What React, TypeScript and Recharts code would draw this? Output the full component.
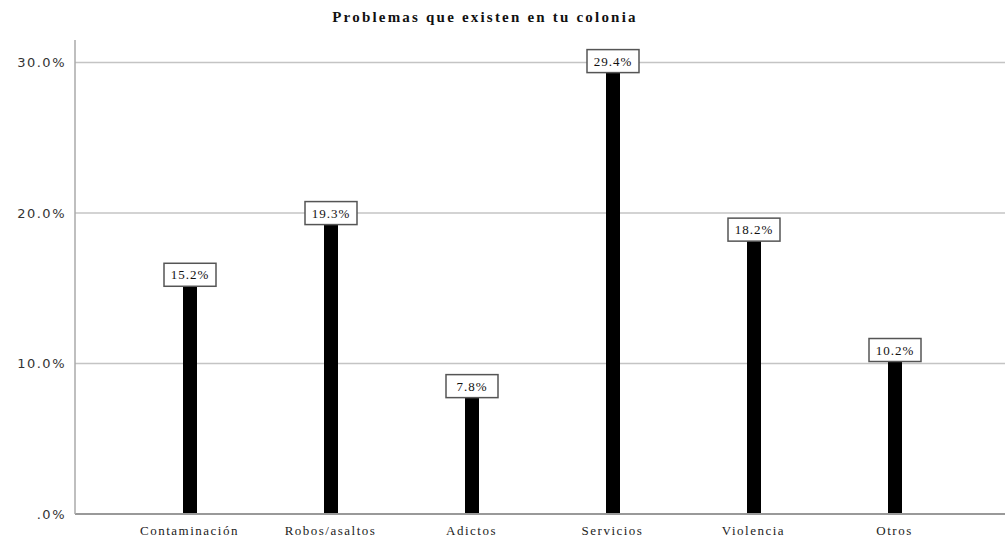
import { BarChart, Bar, XAxis, YAxis, CartesianGrid, LabelList } from "recharts"

const categories = ["Contaminación", "Robos/asaltos", "Adictos", "Servicios", "Violencia", "Otros"]
const percents = [15.2, 19.3, 7.8, 29.4, 18.2, 10.2]
const yTicks = [0, 10, 20, 30]
const yMax = 31.5

const data = categories.map((name, i) => ({ name, value: percents[i] }))

const fmtTick = (v: number) => (v === 0 ? ".0%" : `${v.toFixed(1)}%`)

function BoxLabel(props: any) {
    const { x, y, width, value } = props
    const cx = x + width / 2
    const w = 52
    const h = 23
    return (
        <g>
            <rect x={cx - w / 2} y={y - h + 1} width={w} height={h} fill="#fff" stroke="#555" strokeWidth={1.5} />
            <text
                x={cx}
                y={y - h / 2 + 1}
                textAnchor="middle"
                dominantBaseline="central"
                fontFamily="'Liberation Serif', serif"
                fontSize={13}
                letterSpacing={1}
                fill="#111"
            >
                {`${value.toFixed(1)}%`}
            </text>
        </g>
    )
}

// grid only at the labelled ticks above zero (no frame on top/right)
const gridRows = ({ offset }: any) =>
    yTicks.filter((t) => t > 0).map((t) => offset.top + offset.height * (1 - t / yMax))

export default function App() {
    return (
        <div style={{ position: "absolute", left: 0, top: 0, width: 1005, height: 542, background: "#fff" }}>
            <div
                style={{
                    position: "absolute",
                    top: 9,
                    left: 0,
                    width: 970,
                    textAlign: "center",
                    fontFamily: "'Liberation Serif', serif",
                    fontWeight: "bold",
                    fontSize: 15,
                    letterSpacing: 2.2,
                    color: "#111",
                }}
            >
                Problemas que existen en tu colonia
            </div>
            <BarChart width={1005} height={542} data={data} margin={{ top: 40, right: 0, left: 0, bottom: 0 }}>
                <CartesianGrid
                    vertical={false}
                    stroke="#c4c4c4"
                    strokeWidth={1.5}
                    horizontalCoordinatesGenerator={gridRows}
                />
                <XAxis
                    dataKey="name"
                    height={28}
                    padding={{ left: 44, right: 40 }}
                    tickLine={false}
                    axisLine={{ stroke: "#999", strokeWidth: 2 }}
                    tick={{ fontFamily: "'Liberation Serif', serif", fontSize: 13, fill: "#222", letterSpacing: 1.5 }}
                    tickMargin={6}
                />
                <YAxis
                    width={75}
                    domain={[0, yMax]}
                    ticks={yTicks}
                    tickFormatter={fmtTick}
                    tickLine={false}
                    axisLine={{ stroke: "#aaa", strokeWidth: 1.5 }}
                    tick={{ fontFamily: "'DejaVu Sans', sans-serif", fontSize: 13, fill: "#333", letterSpacing: 1.5 }}
                    tickMargin={3}
                />
                <Bar dataKey="value" fill="#000" barSize={14} isAnimationActive={false}>
                    <LabelList dataKey="value" content={BoxLabel} />
                </Bar>
            </BarChart>
        </div>
    )
}
